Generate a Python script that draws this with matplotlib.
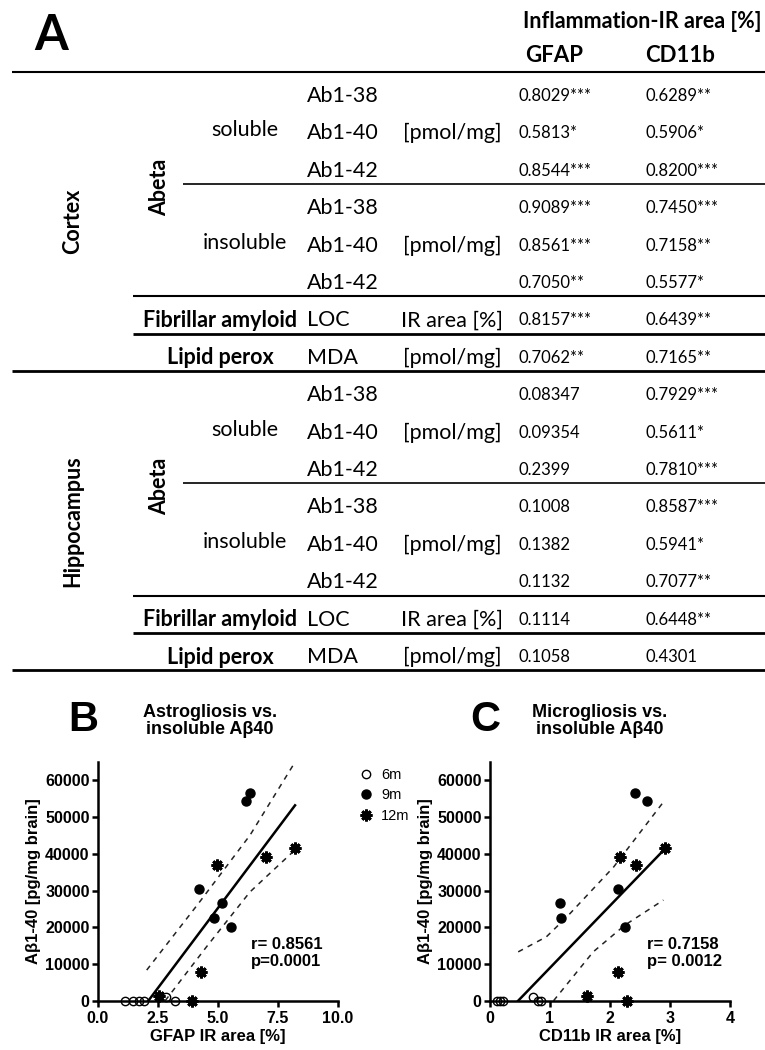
import matplotlib.pyplot as plt
import numpy as np

# ---------------- panel A: correlation table ----------------
regions = ["Cortex", "Hippocampus"]
analytes = ["Ab1-38", "Ab1-40", "Ab1-42", "Ab1-38", "Ab1-40", "Ab1-42", "LOC", "MDA"]
fractions = ["soluble", "insoluble"]
groups = ["Abeta", "Fibrillar amyloid", "Lipid perox"]
units = ["[pmol/mg]", "[pmol/mg]", "IR area [%]", "[pmol/mg]"]
markers_cols = ["GFAP", "CD11b"]

gfap_cortex = ["0.8029***", "0.5813*", "0.8544***", "0.9089***", "0.8561***", "0.7050**", "0.8157***", "0.7062**"]
cd11b_cortex = ["0.6289**", "0.5906*", "0.8200***", "0.7450***", "0.7158**", "0.5577*", "0.6439**", "0.7165**"]
gfap_hippo = ["0.08347", "0.09354", "0.2399", "0.1008", "0.1382", "0.1132", "0.1114", "0.1058"]
cd11b_hippo = ["0.7929***", "0.5611*", "0.7810***", "0.8587***", "0.5941*", "0.7077**", "0.6448**", "0.4301"]

# ---------------- panels B / C: scatter ----------------
ab40_6m = [0, 0, 0, 0, 900, 0]
ab40_9m = [56660, 54300, 30370, 26650, 22390, 20130]
ab40_12m = [41610, 39260, 36990, 7890, 1360, 0]

gfap_6m = [1.11, 1.46, 1.69, 1.92, 2.85, 3.22]
gfap_9m = [6.35, 6.15, 4.21, 5.18, 4.82, 5.56]
gfap_12m = [8.21, 7.01, 4.96, 4.28, 2.54, 3.92]

cd11b_6m = [0.12, 0.16, 0.21, 0.85, 0.72, 0.80]
cd11b_9m = [2.41, 2.61, 2.13, 1.17, 1.18, 2.25]
cd11b_12m = [2.92, 2.16, 2.43, 2.14, 1.62, 2.28]

# regression line + 95% band
fit_b_x = [2.10, 8.21]
fit_b_y = [0, 53200]
upper_b_x = [2.03, 4.2, 6.33, 8.25]
upper_b_y = [8340, 26600, 45030, 65400]
lower_b_x = [2.8, 4.5, 6.33, 8.28]
lower_b_y = [0, 14500, 29600, 41500]

fit_c_x = [0.47, 2.93]
fit_c_y = [0, 41600]
upper_c_x = [0.47, 0.94, 1.28, 2.06, 2.89]
upper_c_y = [13300, 17400, 22800, 36400, 54100]
lower_c_x = [1.06, 1.72, 2.25, 2.89]
lower_c_y = [0, 13300, 20600, 27400]

TAB_FONT = "Lato"
PLOT_FONT = "Liberation Sans"
FS_TXT = 15.5
FS_BOLD = 15.5
FS_VAL = 12

fig = plt.figure(figsize=(7.65, 10.5), dpi=100)

# table drawn in pixel coordinates of the figure
tab = fig.add_axes([0, 0, 1, 1])
tab.set_xlim(0, 765)
tab.set_ylim(1050, 0)
tab.axis("off")

row_h = 37.4
top = 72
def row_y(i):
    return top + row_h * i + 24

tab.text(51, 35, "A", fontsize=35, fontweight="bold", family=TAB_FONT, ha="center", va="center")
tab.text(523, 22, "Inflammation-IR area [%]", fontsize=FS_BOLD, fontweight="bold", family=TAB_FONT, va="center")
tab.text(525, 56, markers_cols[0], fontsize=FS_BOLD + 0.5, fontweight="bold", family=TAB_FONT, va="center")
tab.text(645, 56, markers_cols[1], fontsize=FS_BOLD + 0.5, fontweight="bold", family=TAB_FONT, va="center")

# horizontal rules: (row index, left x, width)
rules = [(0, 12, 1.5), (3, 183, 1.2), (6, 133, 1.5), (7, 133, 2.0), (8, 12, 2.0),
         (11, 183, 1.2), (14, 133, 1.5), (15, 133, 2.0), (16, 12, 2.0)]
for k, x0, lw in rules:
    tab.plot([x0, 765], [top + row_h * k] * 2, color="black", lw=lw, solid_capstyle="butt")

for r, (region, gvals, cvals) in enumerate(zip(regions, [gfap_cortex, gfap_hippo], [cd11b_cortex, cd11b_hippo])):
    base = 8 * r
    reg_mid = top + row_h * (base + 4)
    tab.text(73, reg_mid, region, rotation=90, fontsize=FS_BOLD, fontweight="bold", family=TAB_FONT,
             ha="center", va="center")
    tab.text(160, top + row_h * (base + 3) + 3, groups[0], rotation=90, fontsize=FS_BOLD, fontweight="bold",
             family=TAB_FONT, ha="center", va="center")
    for f in range(2):
        tab.text(245, row_y(base + 3 * f + 1) - 3, fractions[f], fontsize=FS_TXT, family=TAB_FONT,
                 ha="center", va="center")
    tab.text(220, row_y(base + 6), groups[1], fontsize=FS_BOLD, fontweight="bold", family=TAB_FONT,
             ha="center", va="center")
    tab.text(220, row_y(base + 7), groups[2], fontsize=FS_BOLD, fontweight="bold", family=TAB_FONT,
             ha="center", va="center")
    unit_rows = [1, 4, 6, 7]
    for u, ur in zip(units, unit_rows):
        tab.text(452, row_y(base + ur), u, fontsize=FS_TXT, family=TAB_FONT, ha="center", va="center")
    for i in range(8):
        y = row_y(base + i)
        tab.text(307, y, analytes[i], fontsize=FS_TXT, family=TAB_FONT, va="center")
        tab.text(519, y, gvals[i], fontsize=FS_VAL, family=TAB_FONT, va="center")
        tab.text(646, y, cvals[i], fontsize=FS_VAL, family=TAB_FONT, va="center")

# ---------------- scatter panels ----------------
def panel(rect, xs, fit, upper, lower, xlim, xticks, xticklabels, xlabel, stats):
    ax = fig.add_axes(rect)
    ax.plot(upper[0], upper[1], ls=(0, (3.5, 3.5)), color="#222222", lw=1.1)
    ax.plot(lower[0], lower[1], ls=(0, (3.5, 3.5)), color="#222222", lw=1.1)
    ax.plot(fit[0], fit[1], color="black", lw=1.8)
    ax.plot(xs[0], ab40_6m, "o", ms=6, mfc="none", mec="black", mew=1.0, clip_on=False, label="6m", zorder=5)
    ax.plot(xs[1], ab40_9m, "o", ms=6.5, mfc="black", mec="black", clip_on=False, label="9m", zorder=5)
    ax.plot(xs[2], ab40_12m, marker=(8, 2, 0), ls="none", ms=8.5, mec="black", mew=2.0, clip_on=False,
            label="12m", zorder=5)
    ax.set_xlim(*xlim)
    ax.set_ylim(0, 65000)
    ax.set_xticks(xticks)
    ax.set_xticklabels(xticklabels)
    ax.set_yticks(np.arange(0, 60001, 10000))
    for s in ["top", "right"]:
        ax.spines[s].set_visible(False)
    for s in ["left", "bottom"]:
        ax.spines[s].set_linewidth(1.8)
    ax.tick_params(width=1.8, length=4, labelsize=11.5)
    ax.tick_params(axis="x", pad=3.5)
    ax.tick_params(axis="y", pad=2)
    for lab in ax.get_xticklabels() + ax.get_yticklabels():
        lab.set_fontweight("bold")
        lab.set_family(PLOT_FONT)
    ax.set_xlabel(xlabel, fontsize=12, fontweight="bold", family=PLOT_FONT, labelpad=2)
    ax.set_ylabel("A\u03b21-40 [pg/mg brain]", fontsize=12, fontweight="bold", family=PLOT_FONT, labelpad=3)
    ax.text(stats[0], stats[1], stats[2], fontsize=12, fontweight="bold", family=PLOT_FONT,
            va="center", linespacing=1.1)
    return ax

ax_b = panel([98 / 765, 49.3 / 1050, 240 / 765, 238.7 / 1050],
             [gfap_6m, gfap_9m, gfap_12m],
             [fit_b_x, fit_b_y], [upper_b_x, upper_b_y], [lower_b_x, lower_b_y],
             (0, 10), [0, 2.5, 5, 7.5, 10], ["0.0", "2.5", "5.0", "7.5", "10.0"],
             "GFAP IR area [%]", (6.38, 13000, "r= 0.8561\np=0.0001"))
ax_c = panel([490 / 765, 49.3 / 1050, 240 / 765, 238.7 / 1050],
             [cd11b_6m, cd11b_9m, cd11b_12m],
             [fit_c_x, fit_c_y], [upper_c_x, upper_c_y], [lower_c_x, lower_c_y],
             (0, 4), [0, 1, 2, 3, 4], ["0", "1", "2", "3", "4"],
             "CD11b IR area [%]", (2.61, 13000, "r= 0.7158\np= 0.0012"))

# panel letters and titles in figure pixel coords
tab.text(83, 720, "B", fontsize=30, fontweight="bold", family=PLOT_FONT, ha="center", va="center")
tab.text(210, 721, "Astrogliosis vs.\ninsoluble A\u03b240", fontsize=13, fontweight="bold",
         family=PLOT_FONT, ha="center", va="center", linespacing=1.05)
tab.text(485, 720, "C", fontsize=30, fontweight="bold", family=PLOT_FONT, ha="center", va="center")
tab.text(600, 721, "Microgliosis vs.\ninsoluble A\u03b240", fontsize=13, fontweight="bold",
         family=PLOT_FONT, ha="center", va="center", linespacing=1.05)

leg = ax_b.legend(loc="upper left", bbox_to_anchor=(1.07, 1.0), frameon=False, handlelength=0.8,
                  handletextpad=0.6, labelspacing=0.45, borderaxespad=0,
                  prop={"family": PLOT_FONT, "size": 10.5})

fig.savefig("out.png", dpi=100)
